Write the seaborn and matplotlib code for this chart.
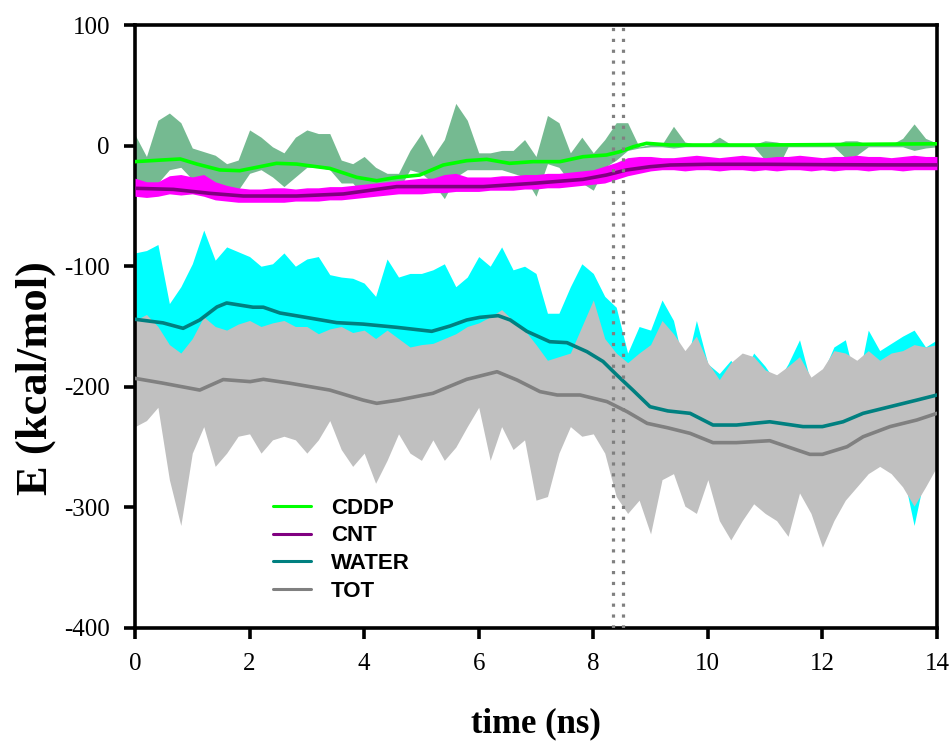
import numpy as np
import pandas as pd
import matplotlib
matplotlib.use("Agg")
import matplotlib.pyplot as plt
import seaborn as sns

# ---------------- data ----------------
# raw traces: upper / lower envelope sampled every 0.2 ns (0 .. 14 ns)
raw_time = np.round(np.arange(0, 14.01, 0.2), 1)

water_hi = [-89, -87, -82, -131, -117, -98, -70, -95, -84, -88,
            -92, -100, -98, -89, -100, -94, -92, -107, -109, -110,
            -114, -125, -94, -109, -106, -106, -103, -98, -117, -109,
            -92, -100, -84, -103, -100, -106, -139, -139, -117, -98,
            -106, -125, -134, -172, -150, -153, -128, -145, -186, -145,
            -181, -189, -178, -192, -172, -183, -197, -181, -161, -197,
            -189, -167, -161, -200, -153, -170, -164, -158, -153, -167,
            -161]
water_lo = [-200, -205, -200, -260, -305, -230, -215, -230, -225, -215,
            -215, -225, -220, -220, -225, -230, -225, -215, -225, -235,
            -230, -245, -235, -220, -230, -235, -225, -235, -225, -215,
            -205, -235, -215, -230, -225, -250, -255, -235, -220, -225,
            -225, -235, -255, -265, -270, -285, -260, -255, -275, -280,
            -265, -285, -295, -285, -280, -285, -298, -295, -275, -285,
            -305, -290, -280, -270, -260, -255, -260, -270, -315, -270,
            -255]
tot_hi = [-145, -140, -150, -165, -172, -160, -142, -150, -153, -148,
          -145, -150, -147, -145, -150, -150, -156, -152, -150, -155,
          -153, -160, -153, -160, -167, -165, -164, -160, -156, -150,
          -147, -142, -136, -145, -153, -165, -178, -175, -172, -150,
          -128, -160, -172, -180, -172, -165, -145, -156, -170, -158,
          -180, -194, -180, -172, -175, -186, -190, -183, -175, -192,
          -185, -170, -172, -178, -170, -178, -172, -170, -165, -167,
          -165]
tot_lo = [-233, -228, -217, -277, -315, -255, -233, -266, -255, -241,
          -239, -255, -244, -241, -244, -255, -244, -228, -252, -266,
          -255, -280, -261, -239, -255, -261, -244, -261, -250, -233,
          -217, -261, -233, -252, -244, -294, -291, -255, -233, -241,
          -239, -255, -291, -305, -294, -322, -277, -272, -299, -305,
          -277, -311, -327, -311, -297, -305, -311, -324, -288, -305,
          -333, -311, -294, -283, -272, -266, -272, -283, -299, -283,
          -266]
cddp_hi = [9, -9, 21, 27, 19, -2, -5, -8, -15, -12,
           13, 7, -1, -6, 7, 13, 10, 10, -12, -15,
           -9, -18, -23, -23, -4, 10, -9, 5, 35, 21,
           -6, -6, -4, -4, 5, -9, 25, 19, -6, 7,
           -6, 5, 19, 19, -1, 1, 1, 16, 3, 1,
           1, 7, 1, 1, 1, 4, 3, 1, 1, 1,
           1, 1, 4, 4, 1, 1, 1, 6, 18, 6,
           2]
cddp_lo = [-31, -31, -31, -20, -18, -28, -31, -31, -37, -37,
           -23, -20, -26, -34, -26, -18, -18, -20, -31, -31,
           -42, -34, -37, -37, -20, -23, -31, -44, -26, -20,
           -20, -20, -20, -23, -26, -42, -15, -18, -31, -31,
           -37, -18, -12, -4, -2, -1, -1, -2, -1, -1,
           -1, -1, -1, -1, -1, -12, -20, -1, -1, -1,
           -1, -1, -10, -8, -1, -1, -1, -1, -4, -2,
           -1]
cnt_hi = [-27, -30, -30, -25, -24, -26, -24, -30, -33, -35,
          -36, -36, -35, -35, -36, -35, -35, -34, -34, -33,
          -32, -31, -30, -29, -28, -27, -27, -24, -23, -26,
          -26, -26, -25, -25, -24, -24, -23, -23, -22, -21,
          -20, -17, -14, -10, -9, -9, -10, -10, -9, -8,
          -9, -10, -9, -8, -9, -10, -9, -9, -8, -9,
          -10, -9, -9, -8, -9, -9, -10, -9, -8, -9,
          -9]
cnt_lo = [-42, -43, -42, -40, -41, -40, -42, -45, -46, -47,
          -47, -47, -47, -47, -46, -46, -46, -45, -45, -44,
          -43, -42, -41, -40, -40, -40, -39, -39, -38, -38,
          -38, -37, -37, -37, -36, -36, -35, -35, -34, -33,
          -32, -31, -28, -25, -23, -21, -20, -20, -21, -20,
          -20, -21, -20, -20, -21, -20, -21, -20, -20, -21,
          -20, -21, -20, -20, -21, -20, -20, -21, -20, -20,
          -20]

# smoothed curves
cddp_t = [0, 0.49, 0.79, 1.08, 1.48, 1.83, 2.24, 2.47, 2.82, 3.17, 3.4, 3.87,
          4.22, 4.57, 4.97, 5.38, 5.79, 6.14, 6.54, 6.95, 7.42, 7.82, 8.23,
          8.47, 8.7, 8.93, 9.34, 10, 11, 12, 13, 14]
cddp_y = [-13.3, -11.9, -11.1, -15.3, -20.2, -20.8, -16.9, -14.7, -15.3, -17.5,
          -18.9, -26.3, -29.1, -26.3, -24.4, -16.1, -12.5, -11.4, -14.7, -13.3,
          -13.3, -9.2, -7.8, -5, -0.9, 1.9, 0.5, 0.5, 0.5, 0.8, 1.2, 1.5]

cnt_t = [0, 0.67, 1.31, 1.89, 2.82, 3.64, 4.57, 5.38, 6.08, 6.95, 7.82, 8.23,
         8.58, 8.99, 9.34, 10, 11, 12, 13, 14]
cnt_y = [-35.4, -36.3, -39.6, -41.8, -41.8, -40.1, -34, -34, -34, -31.3, -28,
         -24.4, -20.2, -17.5, -16.1, -15.5, -15.5, -15.8, -16, -16]

water_t = [0, 0.49, 0.84, 1.13, 1.43, 1.6, 2.06, 2.24, 2.53, 2.93, 3.52, 3.98,
           4.57, 5.18, 5.5, 5.79, 6.02, 6.34, 6.55, 6.84, 7.24, 7.54, 7.89, 8.17,
           8.41, 8.69, 8.99, 9.3, 9.69, 10.09, 10.5, 11.08, 11.66, 12.0, 12.36,
           12.71, 13.18, 13.65, 14.0]
water_y = [-144, -147, -151.5, -144.6, -133.8, -130.5, -134, -134, -138.8, -142,
           -146.8, -148, -150.7, -154, -149.6, -144.6, -142.4, -141, -144.6, -154,
           -162.6, -163.4, -170.9, -179, -190.2, -202.7, -216.5, -220, -222,
           -231.7, -231.7, -229, -233, -233, -229, -222, -216.5, -211, -206.8]

tot_t = [0, 0.49, 1.13, 1.54, 2.01, 2.24, 2.7, 3.4, 3.98, 4.22, 4.6, 5.2, 5.79,
         6.32, 6.67, 7.07, 7.37, 7.77, 8.24, 8.59, 8.94, 9.3, 9.69, 10.09, 10.5,
         11.08, 11.78, 12.0, 12.43, 12.71, 13.18, 13.65, 14.0]
tot_y = [-193, -197, -202.7, -194, -195.7, -193.8, -197, -202.7, -211, -213.7,
         -211, -205.4, -193.8, -187.5, -194.4, -204, -206.8, -206.8, -212.3,
         -220.6, -230.3, -234, -238.6, -246.3, -246.3, -244.7, -256, -256,
         -249.7, -241.4, -233, -227.5, -222]

marker_times = [8.34, 8.52]
series_names = ["CDDP", "CNT", "WATER", "TOT"]
x_ticks = [0, 2, 4, 6, 8, 10, 12, 14]
y_ticks = [-400, -300, -200, -100, 0, 100]

# ---------------- plotting ----------------
sns.set_theme(style="ticks")
plt.rcParams["font.family"] = ["Liberation Serif", "DejaVu Serif"]
plt.rcParams["axes.unicode_minus"] = False
plt.rcParams["text.color"] = "black"
plt.rcParams["axes.labelcolor"] = "black"

fig = plt.figure(figsize=(9.52, 7.45), dpi=100)
ax = fig.add_axes([135 / 952, 1 - 628 / 745, 802 / 952, 603 / 745])

ax.fill_between(raw_time, water_lo, water_hi, color="#00FFFF", lw=0, zorder=1)
ax.fill_between(raw_time, tot_lo, tot_hi, color="#C0C0C0", lw=0, zorder=2)
ax.fill_between(raw_time, cddp_lo, cddp_hi, color="#5DAE7E", lw=0, alpha=0.85,
                zorder=2)
ax.fill_between(raw_time, cnt_lo, cnt_hi, color="#FF00FF", lw=0, zorder=3)

smooth = [
    (cddp_t, cddp_y, "#00FF00"),
    (cnt_t, cnt_y, "#800080"),
    (water_t, water_y, "#008080"),
    (tot_t, tot_y, "#808080"),
]
for name, (tt, yy, col) in zip(series_names, smooth):
    df = pd.DataFrame({"time": tt, "E": yy})
    sns.lineplot(data=df, x="time", y="E", color=col, lw=2.6, ax=ax,
                 label=name, zorder=5)

for xv in marker_times:
    ax.axvline(xv, color="#808080", lw=2.3, ls=(0, (1, 2.4)), zorder=6)

ax.set_xlim(0, 14)
ax.set_ylim(-400, 100)
ax.set_xticks(x_ticks)
ax.set_yticks(y_ticks)
ax.tick_params(axis="both", direction="out", length=8, width=2.6,
               labelsize=18, pad=10, colors="black")
for sp in ax.spines.values():
    sp.set_linewidth(2.6)
    sp.set_color("black")

ax.set_xlabel("time (ns)", fontsize=25, fontweight="bold", labelpad=23)
ax.set_ylabel("E (kcal/mol)", fontsize=32, fontweight="bold")
ax.yaxis.set_label_coords(-0.099, 0.415)

leg = ax.legend(loc="upper left", bbox_to_anchor=(0.172, 0.216), frameon=False,
                handlelength=1.7, handletextpad=0.9, labelspacing=0.3,
                borderpad=0, borderaxespad=0,
                prop={"family": ["Liberation Sans", "DejaVu Sans"],
                      "weight": "bold", "size": 16})
for line in leg.get_lines():
    line.set_linewidth(2.2)
for txt in leg.get_texts():
    txt.set_color("black")

fig.savefig("out.png", dpi=100)
